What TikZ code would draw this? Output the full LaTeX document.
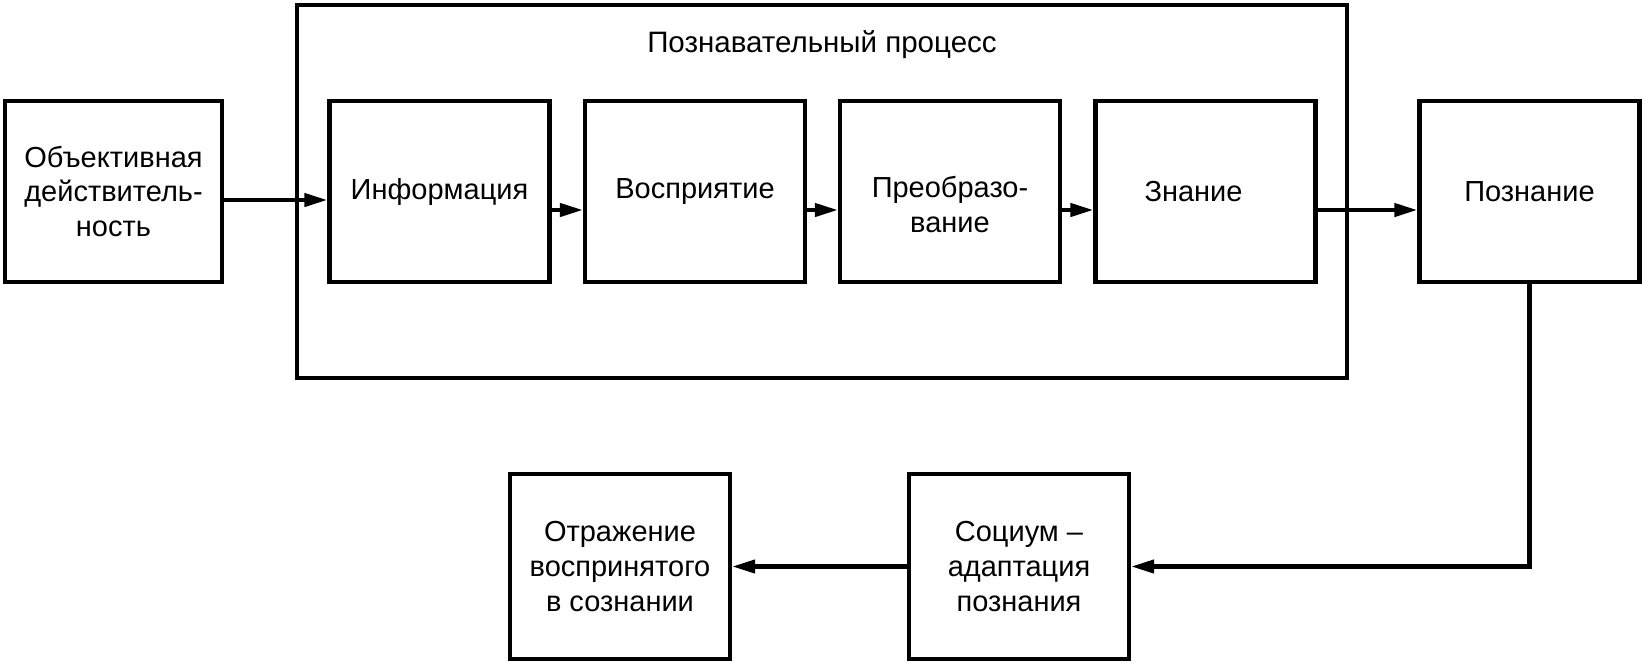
\documentclass[tikz,border=0pt]{standalone}
\usepackage{fontspec}
\setmainfont{Liberation Sans}
\usepackage{tikz}
\usetikzlibrary{arrows.meta}
\tikzset{
  blockbox/.style={draw=black, line width=2.4pt, minimum width=4.4cm, minimum height=3.62cm, align=center, inner sep=2pt, font=\fontsize{16.5}{19.8}\selectfont},
  frameline/.style={draw=black, line width=2.4pt},
  flowline/.style={draw=black, line width=2.4pt, -{Triangle[length=0.46cm,width=0.26cm]}},
  lab/.style={font=\fontsize{16.8}{20}\selectfont},
}

\begin{document}
\begin{tikzpicture}
  \useasboundingbox (0,0) rectangle (32.84,-13.24);

  \draw[frameline] (5.94,-0.10) rectangle (26.94,-7.56); % cognitive process frame
  \node[lab] (title) at (16.44,-0.90) {Познавательный процесс};

  \node[blockbox, minimum width=4.34cm] (obj) at (2.27,-3.83) {Объективная\\действитель-\\ность};
  \node[blockbox] (info) at (8.79,-3.83) {Информация};
  \node[blockbox] (perc) at (13.90,-3.83) {Восприятие};
  \node[blockbox] (trans) at (19.00,-3.83) {\rule{0pt}{0.95cm}Преобразо-\\вание};
  \node[blockbox] (know) at (24.11,-3.83) {Знание\hspace*{0.48cm}};
  \node[blockbox] (cogn) at (30.59,-3.83) {Познание};
  \node[blockbox, minimum height=3.7cm] (soc) at (20.38,-11.33) {Социум –\\адаптация\\познания};
  \node[blockbox, minimum height=3.7cm] (refl) at (12.40,-11.33) {Отражение\\воспринятого\\в сознании};

  \draw[flowline] ([yshift=-0.17cm]obj.east) -- ([yshift=-0.17cm]info.west);
  \draw[flowline] ([yshift=-0.37cm]info.east) -- ([yshift=-0.37cm]perc.west);
  \draw[flowline] ([yshift=-0.37cm]perc.east) -- ([yshift=-0.37cm]trans.west);
  \draw[flowline] ([yshift=-0.37cm]trans.east) -- ([yshift=-0.37cm]know.west);
  \draw[flowline] ([yshift=-0.37cm]know.east) -- ([yshift=-0.37cm]cogn.west);
  \draw[flowline] (cogn.south) |- (soc.east);
  \draw[flowline] (soc.west) -- (refl.east);
\end{tikzpicture}
\end{document}
